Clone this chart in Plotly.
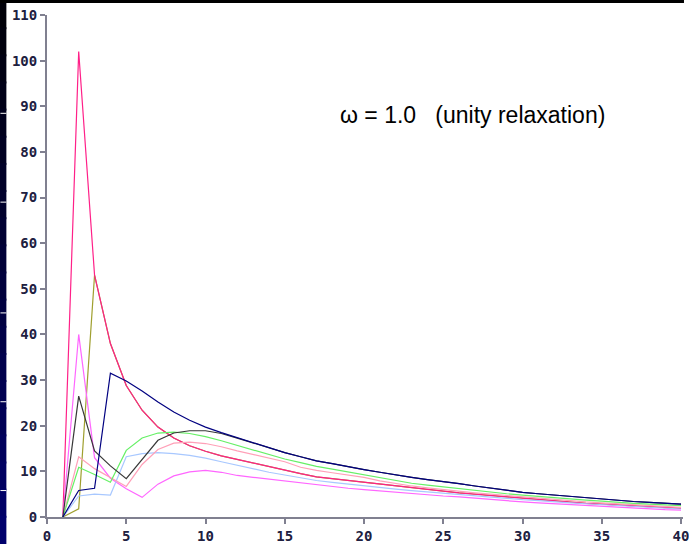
import plotly.graph_objects as go

x_vals = list(range(1, 41))

navy = [0, 5.8, 6.3, 31.5, 29.8, 27.6, 25.2, 23.0, 21.2, 19.7, 18.5, 17.4, 16.2, 15.1, 14.1, 13.2,
        12.3, 11.7, 11.0, 10.4, 9.8, 9.2, 8.7, 8.2, 7.8, 7.3, 6.8, 6.3, 5.8, 5.4, 5.1, 4.8, 4.5,
        4.2, 3.9, 3.6, 3.4, 3.2, 3.0, 2.8]
gray = [0, 26.5, 14.5, 11.2, 8.4, 12.5, 16.8, 18.4, 18.9, 18.9, 18.3, 17.3, 16.2, 15.1, 14.1, 13.2,
        12.3, 11.7, 11.0, 10.4, 9.8, 9.2, 8.7, 8.2, 7.8, 7.3, 6.8, 6.3, 5.8, 5.4, 5.1, 4.8, 4.5,
        4.2, 3.9, 3.6, 3.4, 3.2, 3.0, 2.8]
green = [0, 10.9, 9.3, 7.6, 14.6, 17.3, 18.4, 18.6, 18.3, 17.6, 16.7, 15.7, 14.6, 13.6, 12.7, 11.9,
         11.1, 10.5, 9.9, 9.3, 8.6, 8.0, 7.4, 7.0, 6.6, 6.2, 5.9, 5.5, 5.1, 4.8, 4.5, 4.2, 3.9,
         3.7, 3.5, 3.2, 3.0, 2.8, 2.6, 2.5]
light_pink = [0, 13.2, 10.6, 8.6, 6.7, 11.5, 14.8, 16.2, 16.4, 16.1, 15.4, 14.5, 13.7, 12.9, 12.1,
              10.9, 10.2, 9.7, 9.2, 8.7, 7.9, 7.3, 6.8, 6.4, 6.0, 5.7, 5.3, 5.0, 4.7, 4.4, 4.1, 3.8,
              3.6, 3.3, 3.1, 2.9, 2.7, 2.5, 2.3, 2.1]
hot_pink = [0, 102, 53, 38, 28.8, 23.4, 19.7, 17.3, 15.6, 14.4, 13.4, 12.6, 11.8, 11.0, 10.2, 9.5,
            8.8, 8.4, 8.0, 7.6, 7.2, 6.8, 6.4, 6.0, 5.7, 5.3, 5.0, 4.7, 4.4, 4.1, 3.8, 3.5, 3.3,
            3.0, 2.8, 2.6, 2.4, 2.2, 2.0, 1.9]
olive = [0, 1.8, 53, 38, 28.8, 23.4, 19.7, 17.3, 15.6, 14.4, 13.4, 12.6, 11.8, 11.0, 10.2, 9.5,
         8.8, 8.4, 8.0, 7.6, 7.2, 6.8, 6.4, 6.0, 5.7, 5.3, 5.0, 4.7, 4.4, 4.1, 3.8, 3.5, 3.3,
         3.0, 2.8, 2.6, 2.4, 2.2, 2.0, 1.9]
light_blue = [0, 4.6, 5.0, 4.8, 13.2, 13.9, 14.1, 13.9, 13.5, 12.9, 12.1, 11.3, 10.5, 9.8, 9.2, 8.6,
              8.0, 7.6, 7.2, 6.8, 6.4, 6.1, 5.8, 5.5, 5.2, 4.9, 4.6, 4.3, 4.1, 3.8, 3.6, 3.3, 3.1,
              2.9, 2.7, 2.5, 2.3, 2.1, 1.9, 1.75]
magenta = [0, 40, 13, 8.5, 6.2, 4.3, 7.2, 9.0, 9.9, 10.2, 9.8, 9.1, 8.7, 8.3, 7.9, 7.5, 7.1, 6.6,
           6.3, 6.0, 5.7, 5.4, 5.2, 4.9, 4.6, 4.4, 4.1, 3.8, 3.6, 3.3, 3.1, 2.9, 2.7, 2.5, 2.3,
           2.1, 1.9, 1.8, 1.6, 1.5]

y_ticks = list(range(0, 111, 10))
x_ticks = list(range(0, 41, 5))
annotation_text = "\u03c9 = 1.0\u00a0\u00a0 (unity relaxation)"

series = [
    (olive, "#a0a030"),
    (hot_pink, "#ff2088"),
    (magenta, "#ff66ff"),
    (light_blue, "#a8c8ff"),
    (light_pink, "#ffa0b8"),
    (green, "#66f066"),
    (gray, "#383838"),
    (navy, "#000080"),
]

fig = go.Figure()
for ys, col in series:
    fig.add_trace(go.Scatter(x=x_vals, y=ys, mode="lines",
                             line=dict(color=col, width=1.2), showlegend=False,
                             hoverinfo="skip"))

W, H = 689, 544
L, T, B = 47, 15, 26
pw = W - L
ph = H - T - B


def px_x(p):
    return (p - L) / pw


def px_y(p):
    return (H - B - p) / ph


shapes = []
# left dark strip with gradient (overlapping bands to avoid seams)
n = 20
for i in range(n):
    y0 = i * H / n
    y1 = (i + 1) * H / n + 2
    f = i / (n - 1)
    b = int(8 + f * 100)
    shapes.append(dict(type="rect", xref="paper", yref="paper",
                       x0=px_x(-1), x1=px_x(6), y0=px_y(y1), y1=px_y(y0),
                       fillcolor=f"rgb(0,0,{b})", line=dict(width=0), layer="above"))
for wy in [113, 202, 313, 402, 491]:
    shapes.append(dict(type="rect", xref="paper", yref="paper",
                       x0=px_x(0), x1=px_x(6), y0=px_y(wy + 1), y1=px_y(wy),
                       fillcolor="white", line=dict(width=0), layer="above"))
# top black line
shapes.append(dict(type="rect", xref="paper", yref="paper",
                   x0=px_x(-1), x1=px_x(W + 1), y0=px_y(3), y1=px_y(-1),
                   fillcolor="black", line=dict(width=0), layer="above"))
fig.update_layout(shapes=shapes)

tickfont = dict(family="DejaVu Sans Mono", size=14, color="#202040", weight="bold")

fig.update_layout(
    width=W, height=H,
    margin=dict(l=L, r=0, t=T, b=B, pad=0),
    paper_bgcolor="white", plot_bgcolor="white",
    xaxis=dict(range=[0, (W - L) / 16], tickvals=x_ticks, ticktext=[str(v) for v in x_ticks],
               showgrid=False, zeroline=False, showline=True, linecolor="#808090", linewidth=2,
               ticks="outside", ticklen=5, tickcolor="#808090", tickwidth=2,
               tickfont=tickfont, fixedrange=True, ticklabeloverflow="allow"),
    yaxis=dict(range=[0, 110], tickvals=y_ticks, ticktext=[str(v) for v in y_ticks],
               showgrid=False, zeroline=False, showline=True, linecolor="#808090", linewidth=2,
               ticks="outside", ticklen=5, tickcolor="#808090", tickwidth=2,
               tickfont=tickfont, fixedrange=True, ticklabeloverflow="allow"),
    annotations=[dict(x=(476.5 - L) / 16, y=(H - B - 115) / ph * 110, xref="x", yref="y",
                      text=annotation_text, showarrow=False,
                      xanchor="center", yanchor="middle",
                      font=dict(family="Liberation Sans", size=23, color="black"))],
)

fig.write_html("out.html", config={"displayModeBar": False},
               post_script="document.body.style.margin='0';document.body.style.overflow='hidden';")
